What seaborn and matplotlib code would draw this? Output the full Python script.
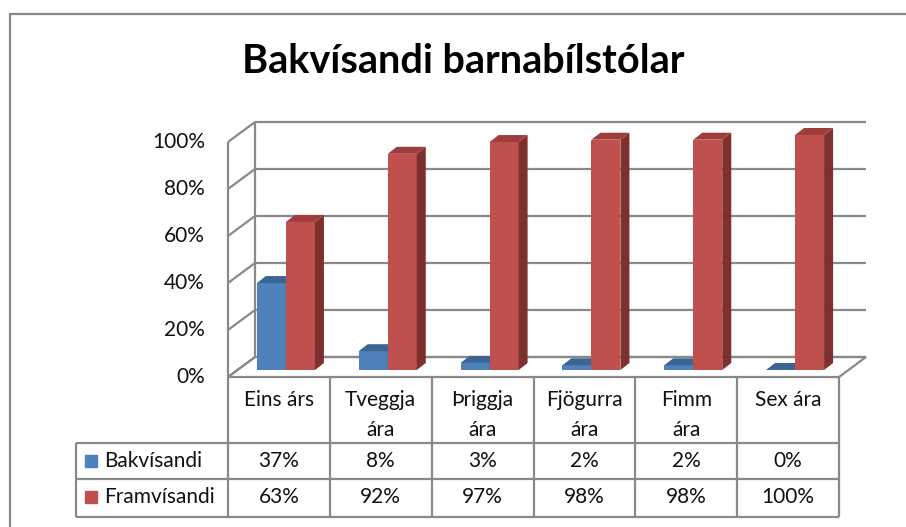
import matplotlib.pyplot as plt
import pandas as pd
import seaborn as sns
from matplotlib.lines import Line2D
from matplotlib.patches import Polygon

# Data
title = "Bakvísandi barnabílstólar"
categories = ["Eins árs", "Tveggja\nára", "Þriggja\nára", "Fjögurra\nára", "Fimm\nára", "Sex ára"]
series = ["Bakvísandi", "Framvísandi"]
bakvisandi = [37, 8, 3, 2, 2, 0]
framvisandi = [63, 92, 97, 98, 98, 100]
y_ticks = [0, 20, 40, 60, 80, 100]

front_colors = {"Bakvísandi": "#4F81BD", "Framvísandi": "#C0504D"}
top_colors = {"Bakvísandi": "#3A6595", "Framvísandi": "#9E3D3B"}
side_colors = {"Bakvísandi": "#365E8C", "Framvísandi": "#7D302E"}
GRAY = "#898989"
TXT = "#111111"
FS = 15

sns.set_style("white")
plt.rcParams["font.family"] = ["Lato", "DejaVu Sans"]

W, H = 906, 527
fig = plt.figure(figsize=(W / 100, H / 100), dpi=100)

# axes = the plane through the bar fronts
ax = fig.add_axes([235 / W, 1 - 370 / H, 611 / W, 235 / H])

df = pd.DataFrame({
    "category": categories * 2,
    "series": [s for s in series for _ in categories],
    "value": [v / 100 for v in bakvisandi + framvisandi],
})
sns.barplot(data=df, x="category", y="value", hue="series", palette=front_colors,
            width=0.57, gap=0, saturation=1, errorbar=None, legend=False,
            linewidth=0, ax=ax)
ax.set_xlim(-0.5, 5.5)
ax.set_ylim(0, 1)
ax.set_axis_off()

# pixel -> data unit helpers for the fake 3d depth
ux, uy = 611 / 6, 235
BACK = (20 / ux, 13 / uy)
FRONT = (-7 / ux, -7 / uy)
DEPTH = (9 / ux, 7 / uy)
x0, x1 = -0.5, 5.5
line_kw = dict(color=GRAY, lw=1.6, clip_on=False, solid_capstyle="butt")

# floor, back wall and left wall
ax.add_patch(Polygon([(x0 + FRONT[0], FRONT[1]), (x1 + FRONT[0], FRONT[1]),
                      (x1 + BACK[0], BACK[1]), (x0 + BACK[0], BACK[1])],
                     closed=True, fc="white", ec=GRAY, lw=1.6, zorder=1, clip_on=False))
for t in y_ticks:
    y = t / 100
    ax.plot([x0 + BACK[0], x1 + BACK[0]], [y + BACK[1]] * 2, zorder=1, **line_kw)
    ax.plot([x0 + FRONT[0], x0 + BACK[0]], [y + FRONT[1], y + BACK[1]], zorder=1, **line_kw)
    ax.text(x0 + FRONT[0] - 23 / ux, y + FRONT[1], f"{t}%", ha="right", va="center",
            fontsize=FS, color=TXT)
ax.plot([x0 + BACK[0]] * 2, [BACK[1], 1 + BACK[1]], zorder=1, **line_kw)
ax.plot([x0 + FRONT[0]] * 2, [FRONT[1], 1 + FRONT[1]], zorder=1, **line_kw)

# 3d faces of the bars
for cont, s in zip(ax.containers, series):
    z = 3 if s == series[0] else 5
    for bar in cont:
        bx, bw, bh = bar.get_x(), bar.get_width(), bar.get_height()
        bar.set_zorder(z)
        ax.add_patch(Polygon([(bx + bw, 0), (bx + bw + DEPTH[0], DEPTH[1]),
                              (bx + bw + DEPTH[0], bh + DEPTH[1]), (bx + bw, bh)],
                             fc=side_colors[s], lw=0, zorder=z, clip_on=False))
        ax.add_patch(Polygon([(bx, bh), (bx + DEPTH[0], bh + DEPTH[1]),
                              (bx + bw + DEPTH[0], bh + DEPTH[1]), (bx + bw, bh)],
                             fc=top_colors[s], lw=0, zorder=z, clip_on=False))

# data table below the chart
def ypx(p):
    return (370 - p) / uy

col_left = x0 + FRONT[0]
x_left = col_left - (228 - 76) / ux
for i in range(len(categories) + 1):
    ax.plot([col_left + i] * 2, [ypx(377), ypx(517)], **line_kw)
ax.plot([x_left] * 2, [ypx(443), ypx(517)], **line_kw)
for p in [443, 479, 517]:
    ax.plot([x_left, col_left + len(categories)], [ypx(p)] * 2, **line_kw)

for i, lab in enumerate(categories):
    for j, part in enumerate(lab.split("\n")):
        ax.text(i + FRONT[0], ypx(400 + 30 * j), part, ha="center", va="center",
                fontsize=FS, color=TXT)

for s, vals, p in zip(series, [bakvisandi, framvisandi], [461, 497]):
    ax.plot(x_left + 15 / ux, ypx(p), marker="s", ms=8, color=front_colors[s],
            clip_on=False)
    ax.text(x_left + 28 / ux, ypx(p), s, ha="left", va="center", fontsize=FS,
            color=TXT)
    for i, v in enumerate(vals):
        ax.text(i + FRONT[0], ypx(p), f"{v}%", ha="center", va="center",
                fontsize=FS, color=TXT)

fig.text(463 / W, 1 - 73 / H, title, ha="center", va="baseline", fontsize=28.5,
         fontweight="bold", color="black")

# outer chart border (clipped at right/bottom like the screenshot)
fig.add_artist(Line2D([10 / W, 10 / W], [0, 1 - 14 / H], color="#888888", lw=1.6))
fig.add_artist(Line2D([10 / W, 1], [1 - 14 / H, 1 - 14 / H], color="#888888", lw=1.6))

fig.savefig("out.png", dpi=100)
